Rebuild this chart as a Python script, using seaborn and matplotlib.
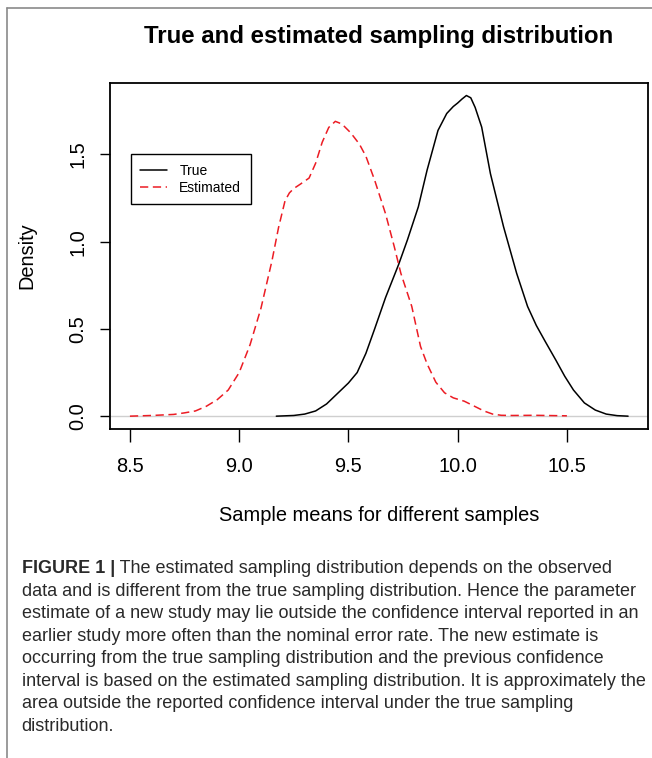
import matplotlib
matplotlib.use("Agg")
import matplotlib.pyplot as plt
from matplotlib.lines import Line2D
import seaborn as sns
import pandas as pd
import numpy as np

# ---------------- data ----------------
est_x = [8.50, 8.60, 8.70, 8.75, 8.80, 8.85, 8.90, 8.95, 9.00, 9.05, 9.10, 9.15,
         9.18, 9.21, 9.23, 9.25, 9.28, 9.32, 9.35, 9.38, 9.41, 9.44, 9.47, 9.51,
         9.55, 9.58, 9.62, 9.67, 9.71, 9.74, 9.79, 9.83, 9.86, 9.90, 9.94, 9.98,
         10.03, 10.08, 10.12, 10.16, 10.20, 10.25, 10.35, 10.45, 10.50]
est_y = [0.000, 0.004, 0.010, 0.019, 0.030, 0.057, 0.095, 0.150, 0.250, 0.410,
         0.620, 0.890, 1.080, 1.235, 1.280, 1.305, 1.330, 1.365, 1.450, 1.570,
         1.655, 1.690, 1.675, 1.625, 1.560, 1.490, 1.353, 1.160, 0.971, 0.819,
         0.629, 0.400, 0.300, 0.195, 0.134, 0.105, 0.086, 0.055, 0.030, 0.012,
         0.005, 0.004, 0.005, 0.003, 0.002]

true_x = [9.17, 9.25, 9.30, 9.35, 9.40, 9.45, 9.50, 9.54, 9.58, 9.62, 9.67, 9.73,
          9.77, 9.82, 9.86, 9.91, 9.95, 9.98, 10.00, 10.02, 10.04, 10.06, 10.08,
          10.11, 10.15, 10.21, 10.27, 10.32, 10.36, 10.40, 10.45, 10.49, 10.53,
          10.58, 10.63, 10.68, 10.73, 10.78]
true_y = [0.000, 0.004, 0.012, 0.030, 0.070, 0.130, 0.190, 0.250, 0.360, 0.500,
          0.680, 0.870, 1.010, 1.200, 1.410, 1.638, 1.735, 1.775, 1.795, 1.818,
          1.838, 1.825, 1.770, 1.657, 1.390, 1.086, 0.819, 0.629, 0.520, 0.430,
          0.320, 0.229, 0.150, 0.076, 0.035, 0.012, 0.003, 0.000]

series_labels = ["True", "Estimated"]
x_ticks = [8.5, 9.0, 9.5, 10.0, 10.5]
x_tick_labels = ["8.5", "9.0", "9.5", "10.0", "10.5"]
y_ticks = [0.0, 0.5, 1.0, 1.5]
y_tick_labels = ["0.0", "0.5", "1.0", "1.5"]

title = "True and estimated sampling distribution"
x_label = "Sample means for different samples"
y_label = "Density"
caption_bold = "FIGURE 1 |"
caption_lines = [
    " The estimated sampling distribution depends on the observed",
    "data and is different from the true sampling distribution. Hence the parameter",
    "estimate of a new study may lie outside the confidence interval reported in an",
    "earlier study more often than the nominal error rate. The new estimate is",
    "occurring from the true sampling distribution and the previous confidence",
    "interval is based on the estimated sampling distribution. It is approximately the",
    "area outside the reported confidence interval under the true sampling",
    "distribution.",
]

# ---------------- style ----------------
sns.set_theme(style="white")
plt.rcParams["font.family"] = ["Liberation Sans", "DejaVu Sans"]
plt.rcParams["text.color"] = "black"
plt.rcParams["axes.labelcolor"] = "black"
plt.rcParams["xtick.color"] = "black"
plt.rcParams["ytick.color"] = "black"

W, H = 652, 758
fig = plt.figure(figsize=(W / 100, H / 100), dpi=100)
fig.patch.set_facecolor("white")

ax_l, ax_r, ax_t, ax_b = 110, 648, 82.7, 429
ax = fig.add_axes([ax_l / W, 1 - ax_b / H, (ax_r - ax_l) / W, (ax_b - ax_t) / H])

true_df = pd.DataFrame({"x": true_x, "y": true_y})
est_df = pd.DataFrame({"x": est_x, "y": est_y})

red = "#ec1c24"
ax.axhline(0, color="#cfcfcf", lw=1.0, zorder=1)
sns.lineplot(data=true_df, x="x", y="y", ax=ax, color="black", lw=1.1,
             sort=False, estimator=None, zorder=3)
sns.lineplot(data=est_df, x="x", y="y", ax=ax, color=red, lw=1.1,
             sort=False, estimator=None, zorder=3, dashes=(5.4, 3.0))
for ln in ax.get_lines():
    ln.set_solid_joinstyle("round")
    ln.set_dash_joinstyle("round")

# R-style 4% padding
allx = np.array(est_x + true_x)
ymax = max(max(est_y), max(true_y))
xr = allx.max() - allx.min()
ax.set_xlim(allx.min() - 0.04 * xr, allx.max() + 0.04 * xr)
ax.set_ylim(-0.04 * ymax, ymax * 1.04)

ax.set_xticks(x_ticks)
ax.set_xticklabels(x_tick_labels, fontsize=14.4)
ax.set_yticks(y_ticks)
ax.set_yticklabels(y_tick_labels, fontsize=14.4, rotation=90, va="center")
ax.tick_params(axis="x", direction="out", length=9, width=1.0, pad=11, bottom=True)
ax.tick_params(axis="y", direction="out", length=7.5, width=1.0, pad=9, left=True)
for s in ax.spines.values():
    s.set_visible(True)
    s.set_color("black")
    s.set_linewidth(1.3)

ax.set_title(title, fontsize=17.3, fontweight="bold", pad=28.8)
ax.set_xlabel(x_label, fontsize=14.4)
ax.set_ylabel(y_label, fontsize=14.4)
ax.xaxis.label.set_va("baseline")
ax.xaxis.set_label_coords(0.5, -(520.7 - ax_b) / (ax_b - ax_t))
ax.yaxis.label.set_va("center")
ax.yaxis.set_label_coords((26.7 - ax_l) / (ax_r - ax_l), 0.5)

handles = [Line2D([], [], color="black", lw=1.1),
           Line2D([], [], color=red, lw=1.1, dashes=(5.4, 3.0))]
leg = ax.legend(handles, series_labels, loc="upper left",
                bbox_to_anchor=((130.7 - ax_l) / (ax_r - ax_l), (ax_b - 154) / (ax_b - ax_t)),
                borderaxespad=0, fontsize=10, frameon=True, fancybox=False,
                handlelength=1.9, handletextpad=0.9, labelspacing=0.2,
                borderpad=0.7)
leg.get_frame().set_edgecolor("black")
leg.get_frame().set_linewidth(1.0)
leg.get_frame().set_alpha(1)

# outer frame of the figure panel
border_col = "#8a8a8a"
fig.add_artist(Line2D([7.3 / W, 1.0], [1 - 8.3 / H, 1 - 8.3 / H], color=border_col, lw=1.2,
                      transform=fig.transFigure))
fig.add_artist(Line2D([7.3 / W, 7.3 / W], [0, 1 - 8.3 / H], color=border_col, lw=1.2,
                      transform=fig.transFigure))

# caption
cap_col = "#2a2a2a"
renderer = fig.canvas.get_renderer()
probe = fig.text(0, 0, caption_lines[5], fontsize=12)
w_probe = probe.get_window_extent(renderer).width
probe.remove()
cap_fs = 12 * (626.0 / w_probe)
x0 = 21.7
base0 = 573.3
lh = 22.5
tb = fig.text(x0 / W, 1 - base0 / H, caption_bold, fontsize=cap_fs, fontweight="bold",
              color=cap_col, va="baseline")
bw = tb.get_window_extent(renderer).width
for i, line in enumerate(caption_lines):
    xx = x0 + (bw if i == 0 else 0)
    fig.text(xx / W, 1 - (base0 + i * lh) / H, line, fontsize=cap_fs, color=cap_col,
             va="baseline")

fig.savefig("out.png", dpi=100)
